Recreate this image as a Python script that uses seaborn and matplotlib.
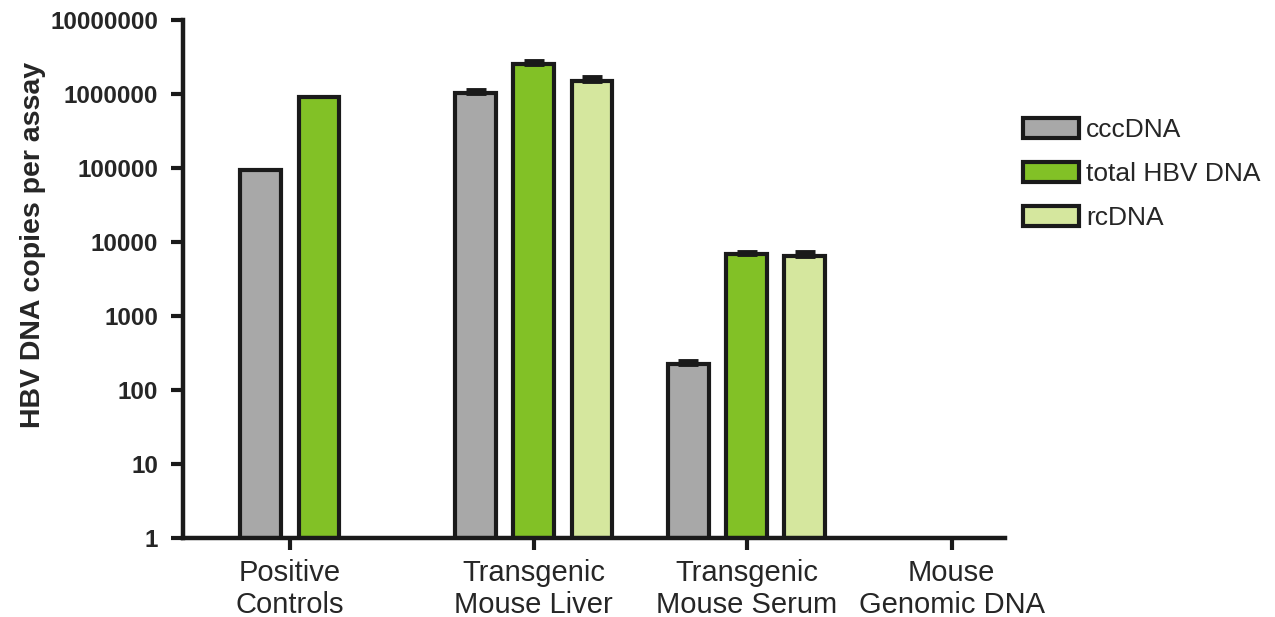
import numpy as np
import pandas as pd
import matplotlib
matplotlib.use("Agg")
import matplotlib.pyplot as plt
from matplotlib.patches import Patch
import seaborn as sns

# ---- data -------------------------------------------------------------
categories = ["Positive\nControls", "Transgenic\nMouse Liver",
              "Transgenic\nMouse Serum", "Mouse\nGenomic DNA"]
series = ["cccDNA", "total HBV DNA", "rcDNA"]

ccc_dna = [95000, 1020000, 228, np.nan]
total_hbv_dna = [920000, 2540000, 6800, np.nan]
rc_dna = [np.nan, 1510000, 6460, np.nan]

# upper error (SD) for each bar
ccc_err = [0, 130000, 17, np.nan]
total_err = [0, 260000, 600, np.nan]
rc_err = [np.nan, 190000, 800, np.nan]

y_ticks = [1, 10, 100, 1000, 10000, 100000, 1000000, 10000000]

# ---- layout / style ---------------------------------------------------
group_centers = [1.835, 6.02, 9.67, 13.19]
colors = {"cccDNA": "#a8a8a8", "total HBV DNA": "#82c126", "rcDNA": "#d5e79e"}
edge = "#1a1a1a"

sns.set_style("ticks")
plt.rcParams["font.family"] = ["Liberation Sans", "DejaVu Sans"]

values = {"cccDNA": ccc_dna, "total HBV DNA": total_hbv_dna, "rcDNA": rc_dna}
errors = {"cccDNA": ccc_err, "total HBV DNA": total_err, "rcDNA": rc_err}

rows = []
for gi, center in enumerate(group_centers):
    present = [s for s in series if not np.isnan(values[s][gi])]
    n = len(present)
    for k, s in enumerate(present):
        pos = center + (k - (n - 1) / 2)
        rows.append({"pos": pos, "value": values[s][gi],
                     "err": errors[s][gi], "series": s})
df = pd.DataFrame(rows)

fig = plt.figure(figsize=(12.75, 6.17), dpi=100)
ax = fig.add_axes([0.1435, 0.128, 0.6445, 0.8395])
ax.set_yscale("log")

sns.barplot(data=df, x="pos", y="value", hue="series", hue_order=series,
            palette=colors, native_scale=True, dodge=False, width=0.70,
            errorbar=None, edgecolor=edge, linewidth=3.0, legend=False,
            saturation=1, ax=ax)

# one-sided error bars only where a spread was measured
eb = df[df["err"] > 0]
ax.errorbar(eb["pos"], eb["value"],
            yerr=[np.zeros(len(eb)), eb["err"]], fmt="none",
            ecolor=edge, elinewidth=2.5, capsize=7, capthick=3.5, zorder=1)

ax.set_ylim(1, 1e7)
ax.set_xlim(0, 14.1)
ax.set_yticks(y_ticks)
ax.set_yticklabels([str(t) for t in y_ticks], fontsize=17.5, fontweight="bold")
ax.yaxis.set_minor_locator(matplotlib.ticker.NullLocator())
ax.set_xticks(group_centers)
ax.set_xticklabels(categories, fontsize=21, linespacing=1.18)

ax.set_xlabel("")
ax.set_ylabel("HBV DNA copies per assay", fontsize=20.5, fontweight="bold")
ax.yaxis.set_label_coords(-0.167, 0.566)

for side in ("top", "right"):
    ax.spines[side].set_visible(False)
for side in ("left", "bottom"):
    ax.spines[side].set_linewidth(3.2)
    ax.spines[side].set_color(edge)
ax.tick_params(axis="both", length=8.5, width=3, color=edge)
ax.tick_params(axis="y", pad=9.5)
ax.tick_params(axis="x", pad=6.5)

handles = [Patch(facecolor=colors[s], edgecolor=edge, linewidth=3.0, label=s)
           for s in series]
fig.legend(handles=handles, loc="upper left", bbox_to_anchor=(0.784, 0.848),
           frameon=False, fontsize=19, handlelength=2.1, handleheight=0.8,
           handletextpad=0.28, labelspacing=0.76)

fig.savefig("out.png", dpi=100)
